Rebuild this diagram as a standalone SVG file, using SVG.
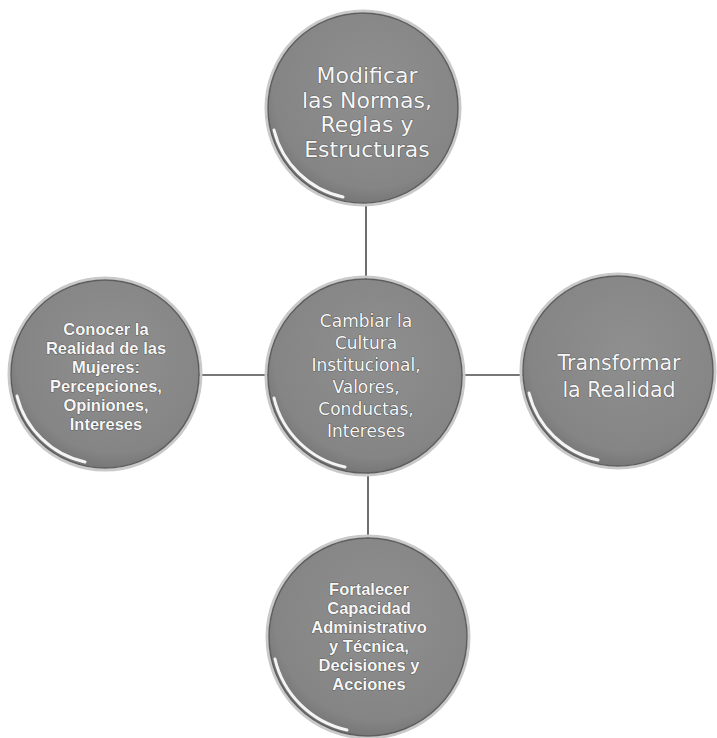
<svg xmlns="http://www.w3.org/2000/svg" width="717" height="738" viewBox="0 0 717 738">
<style>
.ball{fill:url(#g);stroke:#5e5e5e;stroke-width:1.5}
.halo{fill:none;stroke:#c9c9c9;stroke-width:3}
.hl{fill:none;stroke:#fbfbfb;stroke-width:3;stroke-linecap:round;opacity:.95}
.t{fill:#f6f6f6;stroke:#3a3a3a;stroke-width:.7;paint-order:stroke;text-anchor:middle;font-family:"DejaVu Sans","Liberation Sans",sans-serif}
.b{fill:#f6f6f6;stroke:#333;stroke-width:.7;paint-order:stroke;text-anchor:middle;font-family:"Liberation Sans","DejaVu Sans",sans-serif;font-weight:bold;font-size:16.5px}
.c{stroke:#4a4a4a;stroke-width:1.6;fill:none}
</style>
<defs>
<radialGradient id="g" cx="0.55" cy="0.4" r="0.65">
<stop offset="0" stop-color="#8f8f8f"/>
<stop offset="0.8" stop-color="#858585"/>
<stop offset="1" stop-color="#6f6f6f"/>
</radialGradient>
</defs>
<rect width="717" height="738" fill="#ffffff"/>
<g id="connectors">
<line class="c" x1="366" y1="203" x2="366" y2="279"/>
<line class="c" x1="199" y1="375" x2="268" y2="375"/>
<line class="c" x1="462" y1="375" x2="524" y2="375"/>
<line class="c" x1="368" y1="473" x2="368" y2="538"/>
</g>
<g id="node-top" transform="translate(363,108)">
<circle class="halo" r="97"/>
<circle class="ball" r="95"/>
<path class="hl" d="M -89,22 A 91,91 0 0 0 -20,89"/>
<text class="t" font-size="22" x="4" y="-25">Modificar</text>
<text class="t" font-size="22" x="4" y="0">las Normas,</text>
<text class="t" font-size="22" x="4" y="24">Reglas y</text>
<text class="t" font-size="22" x="4" y="49">Estructuras</text>
</g>
<g id="node-center" transform="translate(365,376)">
<circle class="halo" r="99"/>
<circle class="ball" r="97"/>
<path class="hl" d="M -91,22 A 93,93 0 0 0 -20,91"/>
<text class="t" font-size="17" x="1" y="-49">Cambiar la</text>
<text class="t" font-size="17" x="1" y="-27">Cultura</text>
<text class="t" font-size="17" x="1" y="-5">Institucional,</text>
<text class="t" font-size="17" x="1" y="17">Valores,</text>
<text class="t" font-size="17" x="1" y="39">Conductas,</text>
<text class="t" font-size="17" x="1" y="61">Intereses</text>
</g>
<g id="node-left" transform="translate(105,374)">
<circle class="halo" r="96"/>
<circle class="ball" r="94"/>
<path class="hl" d="M -88,22 A 90,90 0 0 0 -20,88"/>
<text class="b" x="1" y="-39">Conocer la</text>
<text class="b" x="1" y="-20">Realidad de las</text>
<text class="b" x="1" y="-1">Mujeres:</text>
<text class="b" x="1" y="18">Percepciones,</text>
<text class="b" x="1" y="37">Opiniones,</text>
<text class="b" x="1" y="56">Intereses</text>
</g>
<g id="node-right" transform="translate(618,371)">
<circle class="halo" r="97"/>
<circle class="ball" r="95"/>
<path class="hl" d="M -89,22 A 91,91 0 0 0 -20,89"/>
<text class="t" font-size="20.5" x="1" y="-1">Transformar</text>
<text class="t" font-size="20.5" x="1" y="26">la Realidad</text>
</g>
<g id="node-bottom" transform="translate(368,637)">
<circle class="halo" r="101"/>
<circle class="ball" r="99"/>
<path class="hl" d="M -93,22 A 95,95 0 0 0 -21,93"/>
<text class="b" x="1" y="-42">Fortalecer</text>
<text class="b" x="1" y="-23">Capacidad</text>
<text class="b" x="1" y="-4">Administrativo</text>
<text class="b" x="1" y="15">y Técnica,</text>
<text class="b" x="1" y="34">Decisiones y</text>
<text class="b" x="1" y="53">Acciones</text>
</g>
</svg>
